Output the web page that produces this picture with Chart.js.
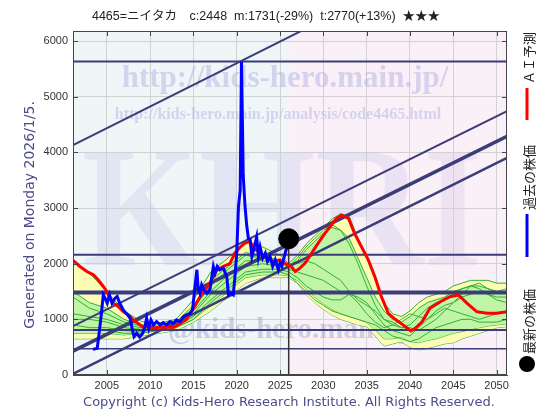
<!DOCTYPE html>
<html>
<head>
<meta charset="utf-8">
<title>4465 ニイタカ</title>
<script src="https://cdn.jsdelivr.net/npm/chart.js@4.4.1/dist/chart.umd.min.js"></script>
<style>
    html, body { margin: 0; padding: 0; background: #fff; }
    #wrap { width: 560px; height: 420px; }
</style>
</head>
<body>
<div id="wrap"><canvas id="kabuChart" width="560" height="420"></canvas></div>
<script>
    //tick labels
    let xTicks = [2005, 2010, 2015, 2020, 2025, 2030, 2035, 2040, 2045, 2050];
    let yTicks = [0, 1000, 2000, 3000, 4000, 5000, 6000];

    //past price (blue)
    let blueYears = [2003.4, 2003.9, 2004.3, 2004.6, 2004.8, 2005.05, 2005.3, 2005.6, 2005.95, 2006.2,
        2006.5, 2006.9, 2007.4, 2007.7, 2007.95, 2008.15, 2008.45, 2008.8, 2009.15, 2009.4,
        2009.6, 2009.85, 2010.1, 2010.4, 2010.75, 2011.15, 2011.5, 2011.9, 2012.3, 2012.7,
        2013.05, 2013.45, 2013.85, 2014.2, 2014.6, 2014.9, 2015.2, 2015.4, 2015.55, 2015.75,
        2015.95, 2016.2, 2016.55, 2016.9, 2017.3, 2017.5, 2017.75, 2018.05, 2018.45, 2018.85,
        2019.05, 2019.3, 2019.6, 2019.8, 2020.0, 2020.2, 2020.4, 2020.55, 2020.75, 2020.95,
        2021.15, 2021.35, 2021.55, 2021.75, 2021.95, 2022.3, 2022.5, 2022.7, 2023.0, 2023.3,
        2023.55, 2023.85, 2024.15, 2024.45, 2024.8, 2025.0, 2025.2, 2025.5, 2025.7, 2025.85];
    let blueValues = [460, 480, 990, 1440, 1380, 1290, 1440, 1290, 1380, 1410,
        1290, 1170, 1080, 1020, 810, 690, 750, 680, 750, 870,
        1020, 840, 990, 900, 960, 900, 940, 900, 960, 930,
        990, 960, 1050, 1080, 1100, 1170, 1620, 1890, 1550, 1470,
        1620, 1530, 1470, 1530, 1950, 1830, 1950, 1890, 1920, 1770,
        1440, 1470, 1440, 1770, 2190, 3020, 3320, 5630, 3590, 3050,
        2690, 2450, 2430, 2130, 2250, 2480, 2130, 2300, 2100, 2190,
        2040, 2130, 1950, 2070, 1890, 2010, 1950, 2130, 2250, 2280];

    //AI forecast (red)
    let redYears = [2001.1, 2001.9, 2002.7, 2003.45, 2004.0, 2004.6, 2005.0, 2005.4, 2005.75, 2006.3,
        2006.9, 2007.5, 2008.05, 2008.6, 2009.2, 2009.8, 2010.4, 2011.15, 2011.9, 2012.7,
        2013.45, 2014.2, 2014.6, 2015.2, 2015.75, 2016.9, 2017.7, 2018.45, 2019.2, 2019.8,
        2020.4, 2020.95, 2021.55, 2021.95, 2022.7, 2023.45, 2024.25, 2025.0, 2025.8, 2026.35,
        2026.75, 2027.3, 2027.9, 2028.65, 2029.4, 2030.2, 2030.95, 2031.5, 2032.1, 2032.9,
        2033.6, 2034.4, 2035.2, 2035.95, 2036.7, 2037.5, 2038.3, 2039.2, 2040.1, 2040.6,
        2041.4, 2042.3, 2043.5, 2044.6, 2045.6, 2046.6, 2047.7, 2048.9, 2050.0, 2051.2];
    let redValues = [2060, 1950, 1860, 1800, 1710, 1590, 1500, 1380, 1290, 1230,
        1140, 1080, 990, 930, 860, 870, 840, 860, 860, 860,
        920, 1000, 1100, 1250, 1400, 1650, 1880, 1950, 2000, 2190,
        2300, 2370, 2400, 2280, 2190, 2100, 2040, 2070, 1980, 1940,
        1860, 1920, 2010, 2190, 2370, 2550, 2700, 2815, 2870, 2815,
        2545, 2305, 2066, 1766, 1407, 1108, 1000, 900, 790, 840,
        957, 1198, 1317, 1407, 1437, 1288, 1138, 1108, 1108, 1138];

    //simulation band + green paths
    let bandYears = [2001.1, 2003, 2005, 2007, 2009, 2011, 2013, 2015, 2017, 2019, 2021, 2023, 2025,
        2026, 2027, 2028, 2029, 2030, 2031, 2032, 2033, 2034, 2035, 2036, 2037, 2038,
        2039, 2040, 2041, 2042, 2043, 2044, 2045, 2046, 2047, 2048, 2049, 2050, 2051.2];
    let bandHi = [2060, 1830, 1500, 1150, 960, 930, 1000, 1350, 1850, 2100, 2400, 2300, 2150,
        2000, 2150, 2350, 2500, 2650, 2800, 2900, 2850, 2450, 2100, 1700, 1300, 1100,
        1050, 1150, 1300, 1400, 1450, 1500, 1600, 1650, 1700, 1700, 1700, 1650, 1650];
    let bandLo = [650, 650, 650, 650, 700, 750, 800, 950, 1150, 1400, 1650, 1750, 1750,
        1750, 1650, 1450, 1300, 1180, 1080, 1000, 950, 900, 870, 700, 520, 560,
        600, 500, 450, 480, 520, 560, 580, 650, 700, 750, 800, 850, 870];
    let greenHi = [1500, 1300, 1200, 1000, 900, 880, 950, 1250, 1700, 1950, 2200, 2150, 2050,
        1980, 2050, 2250, 2400, 2550, 2650, 2600, 2450, 2100, 1750, 1400, 1150, 1000,
        950, 1050, 1200, 1300, 1350, 1400, 1500, 1550, 1600, 1600, 1550, 1500, 1500];
    let greenLo = [750, 750, 750, 720, 760, 800, 850, 1000, 1250, 1500, 1750, 1800, 1800,
        1780, 1700, 1550, 1400, 1280, 1180, 1100, 1050, 1000, 950, 800, 650, 650,
        680, 600, 580, 620, 650, 700, 750, 780, 820, 850, 880, 900, 920];
    let green1 = [1400, 1200, 1100, 950, 880, 870, 930, 1200, 1600, 1900, 2150, 2100, 2000,
        1950, 2100, 2300, 2450, 2600, 2700, 2600, 2350, 2000, 1600, 1250, 1000, 900,
        850, 900, 1050, 1200, 1300, 1350, 1450, 1550, 1600, 1550, 1450, 1400, 1400];
    let green2 = [1000, 1000, 950, 850, 820, 850, 900, 1100, 1450, 1700, 1950, 2000, 1950,
        1900, 1850, 1800, 1750, 1700, 1600, 1500, 1450, 1400, 1300, 1100, 900, 800,
        750, 700, 850, 1000, 1150, 1250, 1300, 1400, 1450, 1500, 1450, 1350, 1300];
    let green3 = [900, 850, 850, 800, 780, 820, 880, 1050, 1350, 1600, 1850, 1900, 1900,
        1850, 1750, 1600, 1500, 1400, 1350, 1350, 1450, 1300, 1100, 950, 850, 900,
        1000, 1100, 1050, 1000, 1100, 1200, 1150, 1100, 1050, 1000, 1050, 1100, 1150];
    let green4 = [800, 800, 800, 750, 750, 800, 850, 1000, 1300, 1550, 1800, 1850, 1850,
        1800, 1650, 1500, 1350, 1250, 1150, 1100, 1050, 1000, 950, 900, 800, 700,
        650, 600, 650, 750, 850, 900, 950, 1000, 1000, 950, 950, 950, 1000];
    let green5 = [1100, 1050, 1000, 900, 850, 850, 900, 1150, 1500, 1800, 2050, 2050, 2000,
        2000, 2000, 2050, 2000, 1900, 1800, 1700, 1500, 1350, 1250, 1150, 1000, 950,
        850, 850, 800, 900, 1000, 1150, 1300, 1450, 1600, 1650, 1550, 1500, 1550];

    //support / resistance levels
    let supportLevels = [5630, 2160, 1480, 810, 470];

    //trend channel (values at first and last year)
    let trendYears = [2001.1, 2051.2];
    let trendA = [4130, 8030];
    let trendB = [880, 4740];
    let trendC = [430, 4290];
    let trendD = [20, 3900];

    //latest price
    let nowYear = 2026.0;
    let lastPrice = 2448;

    function pts(xs, ys) {
        return xs.map((x, i) => ({ x: x, y: ys[i] }));
    }

    let navy = '#3c3c78';
    let gline = '#33b033';

    let datasets = [
        { data: pts(bandYears, bandLo), borderColor: gline, borderWidth: 1, fill: false, order: 9 },
        { data: pts(bandYears, bandHi), borderColor: gline, borderWidth: 1, fill: { target: 0 }, backgroundColor: '#fcfcb4', order: 8 },
        { data: pts(bandYears, greenLo), borderColor: gline, borderWidth: 1, fill: false, order: 7 },
        { data: pts(bandYears, greenHi), borderColor: gline, borderWidth: 1, fill: { target: 2 }, backgroundColor: '#bff5a4', order: 6 }
    ];
    [green1, green2, green3, green4, green5].forEach((g) => {
        datasets.push({ data: pts(bandYears, g), borderColor: gline, borderWidth: 1, order: 5 });
    });
    let supportWidths = [2, 2, 4, 2, 1.5];
    supportLevels.forEach((v, i) => {
        datasets.push({ data: pts(trendYears, [v, v]), borderColor: navy, borderWidth: supportWidths[i], order: 4 });
    });
    let trendWidths = [2, 2, 3.5, 2.5];
    [trendA, trendB, trendC, trendD].forEach((t, i) => {
        datasets.push({ data: pts(trendYears, t), borderColor: navy, borderWidth: trendWidths[i], order: 3 });
    });
    datasets.push({ data: pts([nowYear, nowYear], [lastPrice, 0]), borderColor: '#333', borderWidth: 1.5, order: 3 });
    datasets.push({ data: pts(redYears, redValues), borderColor: '#ff0000', borderWidth: 3, order: 2 });
    datasets.push({ data: pts(blueYears, blueValues), borderColor: '#0000ff', borderWidth: 3, order: 1 });
    datasets.push({ data: [{ x: nowYear, y: lastPrice }], showLine: false, pointRadius: 10, pointBackgroundColor: '#000', pointBorderColor: '#000', order: 0 });

    //background, watermark, texts, legend
    let decor = {
        id: 'decor',
        beforeDraw(chart) {
            let ctx = chart.ctx, a = chart.chartArea;
            let nowPx = chart.scales.x.getPixelForValue(nowYear);
            ctx.save();
            ctx.fillStyle = '#eff6f8';
            ctx.fillRect(a.left, a.top, nowPx - a.left, a.bottom - a.top);
            ctx.fillStyle = '#f9f1f7';
            ctx.fillRect(nowPx, a.top, a.right - nowPx, a.bottom - a.top);
            ctx.restore();
        },
        beforeDatasetsDraw(chart) {
            let ctx = chart.ctx;
            ctx.save();
            ctx.textAlign = 'center';
            ctx.textBaseline = 'alphabetic';
            // KHRI
            let grad = ctx.createLinearGradient(85, 0, 475, 0);
            grad.addColorStop(0, 'rgba(200,200,236,0.35)');
            grad.addColorStop(0.5, 'rgba(240,196,232,0.35)');
            grad.addColorStop(1, 'rgba(206,204,238,0.35)');
            ctx.fillStyle = grad;
            ctx.save();
            ctx.translate(282, 265);
            ctx.scale(1, 1.15);
            ctx.font = 'bold 150px "Liberation Serif", serif';
            ctx.fillText('KHRI', 0, 0);
            ctx.restore();
            ctx.fillStyle = 'rgba(170,170,225,0.45)';
            ctx.font = 'bold 31px "Liberation Serif", serif';
            ctx.fillText('http://kids-hero.main.jp/', 285, 87);
            ctx.font = 'bold 16px "Liberation Serif", serif';
            ctx.fillText('http://kids-hero.main.jp/analysis/code4465.html', 278, 119);
            ctx.fillStyle = 'rgba(150,150,190,0.4)';
            ctx.font = 'bold 29px "Liberation Serif", serif';
            ctx.textAlign = 'left';
            ctx.fillText('@kids-hero.main.jp', 168, 338);
            ctx.restore();
        },
        afterDraw(chart) {
            let ctx = chart.ctx, a = chart.chartArea;
            let sx = chart.scales.x, sy = chart.scales.y;
            ctx.save();
            // box + inner ticks
            ctx.strokeStyle = '#444';
            ctx.lineWidth = 1;
            ctx.strokeRect(a.left + 0.5, a.top + 0.5, a.right - a.left - 1, a.bottom - a.top - 1);
            ctx.beginPath();
            xTicks.forEach((v) => {
                let px = Math.round(sx.getPixelForValue(v)) + 0.5;
                ctx.moveTo(px, a.bottom); ctx.lineTo(px, a.bottom - 5);
                ctx.moveTo(px, a.top); ctx.lineTo(px, a.top + 5);
            });
            yTicks.forEach((v) => {
                let py = Math.round(sy.getPixelForValue(v)) + 0.5;
                ctx.moveTo(a.left, py); ctx.lineTo(a.left + 5, py);
                ctx.moveTo(a.right, py); ctx.lineTo(a.right - 5, py);
            });
            ctx.stroke();

            // title
            ctx.fillStyle = '#222';
            ctx.font = '12.5px "Liberation Sans", "Noto Sans CJK JP", sans-serif';
            ctx.textAlign = 'center';
            ctx.textBaseline = 'middle';
            ctx.fillText('4465=ニイタカ　c:2448  m:1731(-29%)  t:2770(+13%)  ★★★', 266, 17);

            // copyright
            ctx.fillStyle = '#4c4c8c';
            ctx.font = '13px "DejaVu Sans", sans-serif';
            ctx.fillText('Copyright (c) Kids-Hero Research Institute. All Rights Reserved.', 289, 403);

            // left side text
            ctx.save();
            ctx.translate(30, 215);
            ctx.rotate(-Math.PI / 2);
            ctx.font = '14px "DejaVu Sans", sans-serif';
            ctx.fillText('Generated on Monday 2026/1/5.', 0, 0);
            ctx.restore();

            // legend (reads bottom to top)
            ctx.fillStyle = '#222';
            ctx.font = '13px "Noto Sans CJK JP", sans-serif';
            let legend = [
                { text: '最新の株価', start: 354 },
                { text: '過去の株価', start: 210 },
                { text: 'ＡＩ予測', start: 84 }
            ];
            legend.forEach((l) => {
                ctx.save();
                ctx.translate(529, l.start);
                ctx.rotate(-Math.PI / 2);
                ctx.textAlign = 'left';
                ctx.fillText(l.text, 0, 0);
                ctx.restore();
            });
            ctx.lineWidth = 3;
            ctx.strokeStyle = '#ff0000';
            ctx.beginPath(); ctx.moveTo(527, 88); ctx.lineTo(527, 120); ctx.stroke();
            ctx.strokeStyle = '#0000ff';
            ctx.beginPath(); ctx.moveTo(527, 214); ctx.lineTo(527, 257); ctx.stroke();
            ctx.fillStyle = '#000';
            ctx.beginPath(); ctx.arc(527, 364, 8, 0, Math.PI * 2); ctx.fill();
            ctx.restore();
        }
    };

    let ctx = document.getElementById('kabuChart').getContext('2d');
    let myChart = new Chart(ctx, {
        type: 'line',
        data: { datasets: datasets },
        options: {
            responsive: false,
            animation: false,
            layout: { padding: { left: 0, right: 53, top: 31, bottom: 0 } },
            elements: {
                point: { radius: 0 },
                line: { tension: 0, borderCapStyle: 'butt' }
            },
            plugins: {
                legend: { display: false },
                tooltip: { enabled: false }
            },
            scales: {
                x: {
                    type: 'linear',
                    min: 2001.1,
                    max: 2051.2,
                    afterBuildTicks: (s) => { s.ticks = xTicks.map((v) => ({ value: v })); },
                    afterFit: (s) => { s.height = 45; },
                    ticks: {
                        color: '#333',
                        padding: 4,
                        maxRotation: 0,
                        font: { family: '"Liberation Sans", sans-serif', size: 11 },
                        callback: (v) => String(v)
                    },
                    grid: { color: '#d2d2d2', tickLength: 0 },
                    border: { color: '#444' }
                },
                y: {
                    type: 'linear',
                    min: 0,
                    max: 6180,
                    afterBuildTicks: (s) => { s.ticks = yTicks.map((v) => ({ value: v })); },
                    afterFit: (s) => { s.width = 73; },
                    ticks: {
                        color: '#333',
                        padding: 5,
                        font: { family: '"Liberation Sans", sans-serif', size: 11 },
                        callback: (v) => String(v)
                    },
                    grid: { color: '#d2d2d2', tickLength: 0 },
                    border: { color: '#444' }
                }
            }
        },
        plugins: [decor]
    });
</script>
</body>
</html>
